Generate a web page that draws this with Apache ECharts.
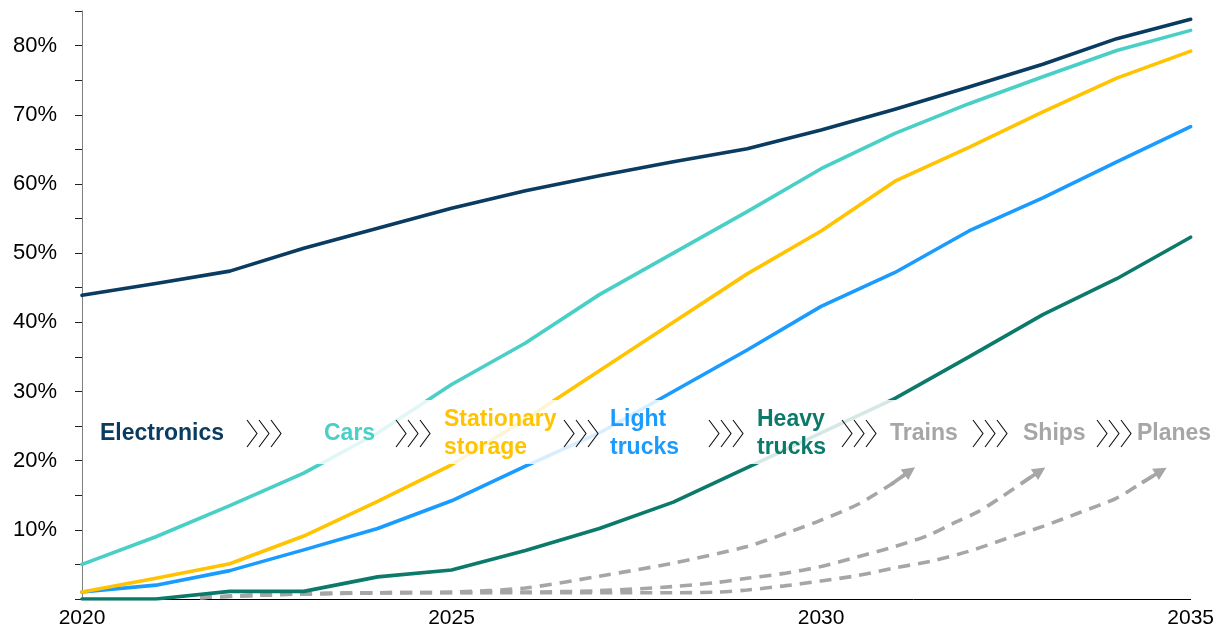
<!DOCTYPE html>
<html>
<head>
<meta charset="utf-8">
<script src="https://cdn.jsdelivr.net/npm/echarts@6/dist/echarts.min.js"></script>
<style>
html,body{margin:0;padding:0;background:#fff;}
#chart{width:1217px;height:630px;}
</style>
</head>
<body>
<div id="chart"></div>
<script>
// ---- data ----
const years = [2020,2021,2022,2023,2024,2025,2026,2027,2028,2029,2030,2031,2032,2033,2034,2035];
const electronics = [43.9,45.6,47.4,50.7,53.6,56.5,59.0,61.2,63.2,65.1,67.8,70.8,74.0,77.3,81.0,83.8];
const cars        = [5,9,13.5,18.2,24,31,37,44,50,56,62.2,67.3,71.6,75.5,79.3,82.2];
const storage     = [1,3,5.1,9.1,14.1,19.4,26,33,40,47,53.2,60.4,65.3,70.4,75.3,79.2];
const lightTrucks = [1,2,4.1,7.1,10.2,14.2,19.2,24,30,36,42.3,47.2,53.2,58,63.2,68.3];
const heavyTrucks = [0,0,1.1,1.1,3.2,4.2,7,10.2,14,19,24,29,35,41.1,46.3,52.3];

const trainsX = [2021.6,2022.5,2024,2025,2026,2027,2028,2029,2029.6,2030,2030.5,2030.95,2031.2];
const trainsY = [0.2,0.6,0.9,1.0,1.6,3.3,5.2,7.6,9.8,11.4,13.7,16.6,18.5];
const shipsX  = [2021.6,2022.5,2024,2026,2027,2028,2028.6,2029,2029.5,2030,2030.5,2031,2031.45,2031.8,2032.12,2032.42,2032.71,2032.96];
const shipsY  = [0.2,0.6,0.9,1.0,1.2,1.8,2.4,3.0,3.7,4.7,6.1,7.6,9.2,11.0,12.6,14.6,16.7,18.5];
const planesX = [2021.6,2022.5,2024,2026,2028,2028.6,2029,2029.5,2030,2030.5,2031,2031.5,2032,2032.5,2033,2033.5,2034,2034.34,2034.6];
const planesY = [0.2,0.6,0.9,0.9,0.9,1.0,1.3,1.9,2.6,3.4,4.5,5.5,6.9,8.7,10.5,12.5,14.6,16.8,18.5];

const labels = [
  {text:'Electronics', x:100, color:'#0a3b60'},
  {text:'Cars', x:324, color:'#48cfc6'},
  {text:'Stationary\nstorage', x:444, color:'#ffc300'},
  {text:'Light\ntrucks', x:610, color:'#1a9bff'},
  {text:'Heavy\ntrucks', x:757, color:'#0b7a6b'},
  {text:'Trains', x:890, color:'#a6a6a6'},
  {text:'Ships', x:1023, color:'#a6a6a6'},
  {text:'Planes', x:1137, color:'#a6a6a6'}
];
const chevronX = [247,396,564,709,842,973,1097];

// ---- build ----
const zip = (xs, ys) => xs.map((x,i)=>[x, ys[i]]);
const solid = (name, vals, color) => ({
  name, type:'line', data: zip(years, vals), showSymbol:false, z:3,
  lineStyle:{color, width:3.6, join:'round', cap:'round'}
});
const dashed = (name, xs, ys) => {
  const n = xs.length;
  return {
    name, type:'line', data: zip(xs, ys), showSymbol:false, smooth:0.3, z:2,
    lineStyle:{color:'#a6a6a6', width:3.6, type:[12,8]},
    markLine:{
      silent:true, symbol:['none','triangle'], symbolSize:[13,13],
      label:{show:false},
      lineStyle:{color:'#a6a6a6', width:3.6, type:'solid'},
      data:[[{coord:[xs[n-2], ys[n-2]]},{coord:[xs[n-1], ys[n-1]]}]],
      animation:false
    }
  };
};

const graphics = [];
graphics.push({type:'rect', z:10, silent:true,
  shape:{x:83, y:400, width:1108, height:64},
  style:{fill:'rgba(255,255,255,0.83)'}});
labels.forEach(l => {
  graphics.push({type:'text', z:20, silent:true,
    style:{text:l.text, x:l.x, y:434, fill:l.color,
      font:'bold 23px "Liberation Sans", Arial, sans-serif',
      lineHeight:28, verticalAlign:'middle', align:'left'}});
});
chevronX.forEach(cx => {
  for (let k=0;k<3;k++){
    const x0 = cx + k*12;
    graphics.push({type:'polyline', z:20, silent:true,
      shape:{points:[[x0,420],[x0+10,433.5],[x0,447]]},
      style:{stroke:'#111', lineWidth:1.1, fill:null}});
  }
});

const chart = echarts.init(document.getElementById('chart'), null, {renderer:'canvas'});
chart.setOption({
  animation:false,
  backgroundColor:'#fff',
  grid:{left:82, right:26, top:11, bottom:31, containLabel:false},
  xAxis:{type:'value', min:2020, max:2035, interval:5,
    axisLine:{show:true, onZero:false, lineStyle:{color:'#000', width:1}},
    axisTick:{show:false}, splitLine:{show:false},
    axisLabel:{color:'#000', fontSize:21, fontFamily:'"Liberation Sans", Arial, sans-serif', margin:9,
      formatter: v => String(v)}},
  yAxis:{type:'value', min:0, max:85, interval:5,
    axisLine:{show:true, lineStyle:{color:'#7f7f7f', width:1}},
    axisTick:{show:true, length:7, inside:false, lineStyle:{color:'#222'}},
    splitLine:{show:false},
    axisLabel:{color:'#000', fontSize:22, fontFamily:'"Liberation Sans", Arial, sans-serif', margin:25,
      formatter: v => (v>0 && v%10===0) ? v+'%' : ''}},
  series:[
    dashed('Trains', trainsX, trainsY),
    dashed('Ships', shipsX, shipsY),
    dashed('Planes', planesX, planesY),
    solid('Heavy trucks', heavyTrucks, '#0b7a6b'),
    solid('Light trucks', lightTrucks, '#1a9bff'),
    solid('Stationary storage', storage, '#ffc300'),
    solid('Cars', cars, '#48cfc6'),
    solid('Electronics', electronics, '#0a3b60')
  ],
  graphic: graphics
});
</script>
</body>
</html>
